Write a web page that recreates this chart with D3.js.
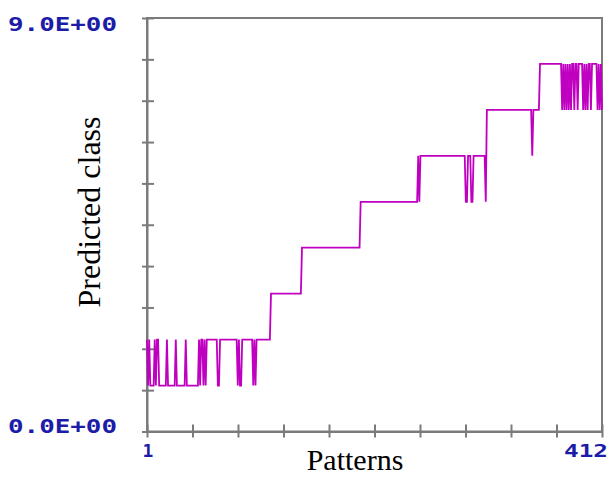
<!DOCTYPE html>
<html>
<head>
<meta charset="utf-8">
<script src="https://cdn.jsdelivr.net/npm/d3@7"></script>
<style>
  body { margin: 0; background: #fff; }
  svg { display: block; }
</style>
</head>
<body>
<div id="chart"></div>
<script>
// predicted class for each pattern (patterns 1..412)
var predicted = [
  2,1,2,1,1,1,1,2,1,2,
  2,1,1,1,1,1,1,1,2,1,
  1,1,1,1,1,1,2,1,1,1,
  1,1,1,1,1,2,1,1,1,1,
  1,1,1,1,1,1,1,2,1,2,
  2,1,2,1,2,2,2,2,2,2,
  2,2,2,2,1,1,2,2,2,2,
  2,2,2,2,2,2,2,2,2,2,
  2,2,1,2,1,1,2,2,2,2,
  2,2,2,2,2,2,1,2,1,2,
  2,2,2,2,2,2,2,2,2,2,
  2,2,3,3,3,3,3,3,3,3,
  3,3,3,3,3,3,3,3,3,3,
  3,3,3,3,3,3,3,3,3,3,
  4,4,4,4,4,4,4,4,4,4,
  4,4,4,4,4,4,4,4,4,4,
  4,4,4,4,4,4,4,4,4,4,
  4,4,4,4,4,4,4,4,4,4,
  4,4,4,4,4,4,4,4,4,4,
  4,4,4,5,5,5,5,5,5,5,
  5,5,5,5,5,5,5,5,5,5,
  5,5,5,5,5,5,5,5,5,5,
  5,5,5,5,5,5,5,5,5,5,
  5,5,5,5,5,5,5,5,5,5,
  5,5,5,5,5,6,5,6,6,6,
  6,6,6,6,6,6,6,6,6,6,
  6,6,6,6,6,6,6,6,6,6,
  6,6,6,6,6,6,6,6,6,6,
  6,6,6,6,6,6,6,6,5,5,
  6,6,6,5,5,6,6,6,6,6,
  6,6,6,6,6,6,5,7,7,7,
  7,7,7,7,7,7,7,7,7,7,
  7,7,7,7,7,7,7,7,7,7,
  7,7,7,7,7,7,7,7,7,7,
  7,7,7,7,7,7,7,7,6,7,
  7,7,7,7,7,8,8,8,8,8,
  8,8,8,8,8,8,8,8,8,8,
  8,8,8,8,8,7,8,7,8,7,
  8,7,8,7,8,8,7,8,8,7,
  8,8,8,8,7,8,7,8,7,8,
  8,7,8,8,8,8,8,7,8,7,
  8,7
];
var patterns = predicted.map(function (d, i) { return i + 1; });
var xDomain = [1, 412];
var yDomain = [0, 9];
var xTickLabels = ["1", "412"];
var yTickLabels = ["0.0E+00", "9.0E+00"];

var width = 611, height = 477,
    margin = { top: 18, right: 9, bottom: 46, left: 147 },
    axisColor = "#7b7b7b",
    labelColor = "#1c1ca8",
    lineColor = "#c000c0";

var svg = d3.select("#chart").append("svg")
    .attr("width", width)
    .attr("height", height);

var x = d3.scaleLinear().domain(xDomain).range([margin.left, width - margin.right]);
var y = d3.scaleLinear().domain(yDomain).range([height - margin.bottom + 0.5, margin.top]);

// ten divisions on both axes
var xTicks = d3.range(11).map(function (k) { return xDomain[0] + k * (xDomain[1] - xDomain[0]) / 10; });
var yTicks = d3.range(11).map(function (k) { return yDomain[0] + k * (yDomain[1] - yDomain[0]) / 10; });

// frame
svg.append("rect")
    .attr("x", x(xDomain[0]))
    .attr("y", y(yDomain[1]))
    .attr("width", x(xDomain[1]) - x(xDomain[0]))
    .attr("height", y(yDomain[0]) - y(yDomain[1]))
    .attr("fill", "none")
    .attr("stroke", axisColor)
    .attr("stroke-width", 2);

var gx = svg.append("g")
    .attr("transform", "translate(0," + y(yDomain[0]) + ")")
    .call(d3.axisBottom(x).tickValues(xTicks).tickSize(6).tickSizeOuter(0).tickFormat(""));
gx.select(".domain").attr("stroke", axisColor).attr("stroke-width", 2);
gx.selectAll(".tick line").attr("y1", -7).attr("stroke", axisColor).attr("stroke-width", 2);

var gy = svg.append("g")
    .attr("transform", "translate(" + x(xDomain[0]) + ",0)")
    .call(d3.axisLeft(y).tickValues(yTicks).tickSize(5).tickSizeOuter(0).tickFormat(""));
gy.select(".domain").attr("stroke", axisColor).attr("stroke-width", 2);
gy.selectAll(".tick line").attr("x1", 7).attr("stroke", axisColor).attr("stroke-width", 2);

// the predicted class line
var line = d3.line()
    .x(function (d, i) { return x(patterns[i]); })
    .y(function (d) { return y(d); });

svg.append("path")
    .datum(predicted)
    .attr("d", line)
    .attr("fill", "none")
    .attr("stroke", lineColor)
    .attr("stroke-width", 1.8)
    .attr("stroke-linejoin", "miter");

// min / max labels
svg.selectAll(".ylab").data(yDomain).enter().append("text")
    .attr("class", "ylab")
    .attr("x", 8)
    .attr("y", function (d, i) { return i === 0 ? y(d) + 1 : y(d) + 13; })
    .attr("textLength", 109)
    .attr("lengthAdjust", "spacingAndGlyphs")
    .attr("font-family", "DejaVu Sans Mono")
    .attr("font-weight", "bold")
    .attr("font-size", "19px")
    .attr("fill", labelColor)
    .text(function (d, i) { return yTickLabels[i]; });

svg.append("text")
    .attr("x", x(xDomain[0]) + 1)
    .attr("y", 457)
    .attr("text-anchor", "middle")
    .attr("font-family", "DejaVu Sans Mono")
    .attr("font-weight", "bold")
    .attr("font-size", "18px")
    .attr("fill", labelColor)
    .text(xTickLabels[0]);

svg.append("text")
    .attr("x", 564)
    .attr("y", 457)
    .attr("textLength", 44)
    .attr("lengthAdjust", "spacingAndGlyphs")
    .attr("font-family", "DejaVu Sans Mono")
    .attr("font-weight", "bold")
    .attr("font-size", "17px")
    .attr("fill", labelColor)
    .text(xTickLabels[1]);

// axis titles
svg.append("text")
    .attr("x", 355)
    .attr("y", 470)
    .attr("text-anchor", "middle")
    .attr("font-family", "Liberation Serif")
    .attr("font-size", "30px")
    .text("Patterns");

svg.append("text")
    .attr("transform", "translate(100,212) rotate(-90)")
    .attr("text-anchor", "middle")
    .attr("font-family", "Liberation Serif")
    .attr("font-size", "32px")
    .text("Predicted class");
</script>
</body>
</html>
